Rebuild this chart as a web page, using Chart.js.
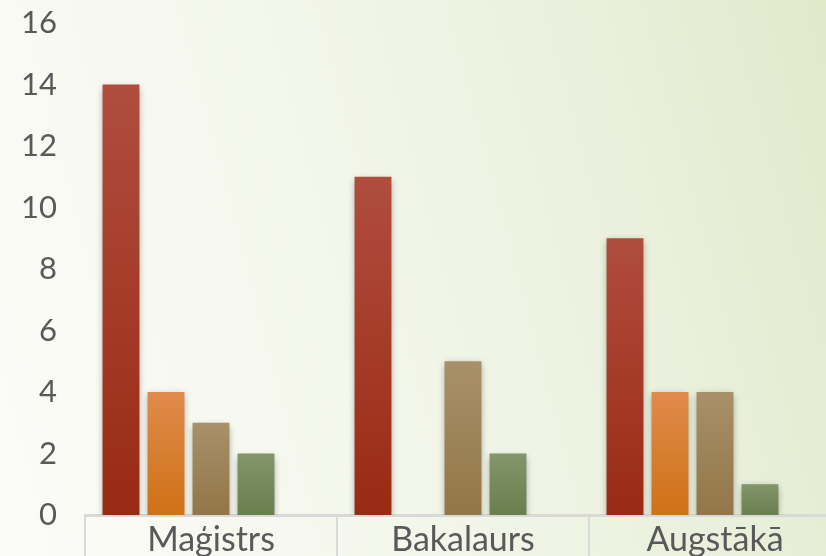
<!DOCTYPE html>
<html>
<head>
<meta charset="utf-8">
<script src="https://cdn.jsdelivr.net/npm/chart.js@4.4.1/dist/chart.umd.min.js"></script>
<style>
  html, body {
    margin: 0;
    padding: 0;
    width: 826px;
    height: 556px;
    overflow: hidden;
    background: linear-gradient(75deg, #fbfcf8 0%, #f4f7ec 40%, #eaf0dc 75%, #e1e9cb 100%);
  }
  #wrap { width: 860px; height: 556px; }
</style>
</head>
<body>
<div id="wrap"><canvas id="chart" width="860" height="556"></canvas></div>
<script>
// ================================
// DATA
// ================================

const kategorijas = ['Maģistrs', 'Bakalaurs', 'Augstākā'];

const serija1 = [14, 11, 9];
const serija2 = [4, 0, 4];
const serija3 = [3, 5, 4];
const serija4 = [2, 2, 1];
const serija5 = [0, 0, 0]; // tukša sērija (vieta grupā paliek)

const yTicks = [0, 2, 4, 6, 8, 10, 12, 14, 16];

// gradient colours per series: [top, bottom]
const krasas = [
  ['#b04d3f', '#992a13'],
  ['#e08b4c', '#cf7116'],
  ['#a89069', '#937648'],
  ['#82966a', '#6a7f4e'],
  ['#999999', '#777777']
];

// ================================
// HELPERS
// ================================

function gradientFor(idx) {
  return function(context) {
    const chart = context.chart;
    const area = chart.chartArea;
    if (!area || context.type !== 'data') return krasas[idx][1];
    const y = chart.scales.y;
    const top = y.getPixelForValue(context.raw || 0);
    const base = y.getPixelForValue(0);
    if (!isFinite(top) || base - top < 1) return krasas[idx][1];
    const g = chart.ctx.createLinearGradient(0, top, 0, base);
    g.addColorStop(0, krasas[idx][0]);
    g.addColorStop(1, krasas[idx][1]);
    return g;
  };
}

const ena = {
  id: 'ena',
  beforeDatasetsDraw(chart) {
    const ctx = chart.ctx;
    ctx.save();
    ctx.shadowColor = 'rgba(0, 0, 0, 0.38)';
    ctx.shadowBlur = 7;
    ctx.shadowOffsetX = 0;
    ctx.shadowOffsetY = 3;
  },
  afterDatasetsDraw(chart) {
    chart.ctx.restore();
  }
};

const serijas = [serija1, serija2, serija3, serija4, serija5];

// ================================
// CHART
// ================================

new Chart(document.getElementById('chart'), {
  type: 'bar',
  data: {
    labels: kategorijas,
    datasets: serijas.map(function(d, i) {
      return {
        label: 'S' + (i + 1),
        data: d,
        backgroundColor: gradientFor(i),
        borderWidth: 0,
        categoryPercentage: 0.893,
        barPercentage: 0.82
      };
    })
  },
  plugins: [ena],
  options: {
    responsive: false,
    animation: false,
    layout: { padding: { top: 23, right: 19, left: 0, bottom: 0 } },
    plugins: {
      legend: { display: false },
      tooltip: { enabled: false }
    },
    scales: {
      y: {
        min: 0,
        max: 16,
        afterFit: function(s) {
          s.width = 85;
          s.paddingTop = 0;
          s.paddingBottom = 0;
        },
        afterBuildTicks: function(s) { s.ticks = yTicks.map(function(v) { return { value: v }; }); },
        grid: { display: false },
        border: { display: false },
        ticks: {
          color: '#595959',
          padding: 20,
          font: { family: 'Lato', size: 31 }
        }
      },
      x: {
        afterFit: function(s) {
          s.height = 41;
          s.paddingLeft = 0;
          s.paddingRight = 0;
        },
        grid: {
          display: true,
          offset: true,
          drawOnChartArea: false,
          drawTicks: true,
          tickLength: 45,
          color: '#d9d9d9',
          lineWidth: 2
        },
        border: { display: true, color: '#d9d9d9', width: 3 },
        ticks: {
          color: '#595959',
          padding: -40,
          font: { family: 'Lato', size: 34 }
        }
      }
    }
  }
});
</script>
</body>
</html>
